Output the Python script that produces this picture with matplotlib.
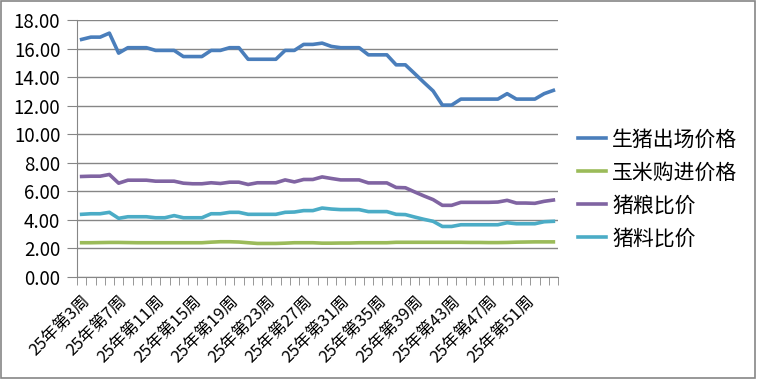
import matplotlib
matplotlib.use("Agg")
import matplotlib.pyplot as plt
import matplotlib.patches as patches

plt.rcParams['font.family'] = ['Noto Sans CJK SC', 'DejaVu Sans']

weeks = list(range(3, 55))
week_labels = [f"25年第{w}周" for w in weeks]

hog_price = [16.64, 16.80, 16.80, 17.08, 15.68, 16.06, 16.06, 16.06, 15.87, 15.87,
             15.87, 15.44, 15.44, 15.44, 15.87, 15.87, 16.06, 16.06, 15.25, 15.25,
             15.25, 15.25, 15.87, 15.87, 16.29, 16.29, 16.38, 16.15, 16.06, 16.06,
             16.06, 15.56, 15.56, 15.56, 14.86, 14.86, 14.25, 13.63, 13.03, 12.04,
             12.04, 12.46, 12.46, 12.46, 12.46, 12.46, 12.84, 12.46, 12.46, 12.46,
             12.84, 13.07]
corn_price = [2.40, 2.40, 2.41, 2.42, 2.42, 2.41, 2.40, 2.40, 2.40, 2.40,
              2.40, 2.40, 2.40, 2.40, 2.44, 2.47, 2.47, 2.45, 2.40, 2.35,
              2.35, 2.35, 2.37, 2.40, 2.40, 2.40, 2.37, 2.37, 2.38, 2.38,
              2.40, 2.40, 2.40, 2.40, 2.43, 2.43, 2.43, 2.43, 2.43, 2.43,
              2.43, 2.43, 2.42, 2.42, 2.41, 2.41, 2.42, 2.44, 2.45, 2.46,
              2.46, 2.46]
hog_grain_ratio = [7.04, 7.06, 7.06, 7.18, 6.57, 6.78, 6.78, 6.78, 6.71, 6.71,
                   6.71, 6.57, 6.53, 6.53, 6.60, 6.55, 6.64, 6.64, 6.48, 6.60,
                   6.60, 6.60, 6.80, 6.66, 6.83, 6.83, 7.01, 6.90, 6.80, 6.80,
                   6.80, 6.59, 6.59, 6.59, 6.27, 6.25, 5.96, 5.68, 5.42, 5.02,
                   5.02, 5.23, 5.23, 5.23, 5.23, 5.25, 5.37, 5.18, 5.18, 5.16,
                   5.30, 5.39]
hog_feed_ratio = [4.39, 4.43, 4.43, 4.53, 4.11, 4.22, 4.22, 4.22, 4.15, 4.15,
                  4.30, 4.15, 4.15, 4.15, 4.43, 4.43, 4.53, 4.53, 4.39, 4.39,
                  4.39, 4.39, 4.53, 4.55, 4.65, 4.65, 4.83, 4.76, 4.72, 4.72,
                  4.72, 4.58, 4.58, 4.58, 4.39, 4.37, 4.20, 4.04, 3.90, 3.54,
                  3.54, 3.66, 3.66, 3.66, 3.66, 3.66, 3.80, 3.73, 3.73, 3.73,
                  3.87, 3.90]

series_names = ['生猪出场价格', '玉米购进价格', '猪粮比价', '猪料比价']
series_colors = ['#4A7EBB', '#9BBB59', '#8064A2', '#4BACC6']
grey = '#868686'

fig = plt.figure(figsize=(7.57, 3.79), dpi=100)
ax = fig.add_axes([77/757, 1 - 277/379, 481/757, 257/379])

x = list(range(len(weeks)))
for vals, name, col in zip([hog_price, corn_price, hog_grain_ratio, hog_feed_ratio],
                           series_names, series_colors):
    ax.plot(x, vals, color=col, linewidth=2.6, label=name, solid_joinstyle='round')

ax.set_xlim(-0.5, len(weeks) - 0.5)
ax.set_ylim(0, 18)
ax.set_yticks(range(0, 19, 2))
ax.set_yticklabels([f"{v:.2f}" for v in range(0, 19, 2)], fontsize=13.5)
ax.yaxis.grid(True, color=grey, linewidth=1)
ax.set_axisbelow(True)

ax.set_xticks(x[::4])
ax.set_xticklabels(week_labels[::4], rotation=45, ha='right', va='top',
                   rotation_mode='anchor', fontsize=12)
ax.set_xticks([i - 0.5 for i in range(len(weeks) + 1)], minor=True)
ax.tick_params(axis='x', which='major', length=0, pad=11)
ax.tick_params(axis='x', which='minor', length=6, color=grey, direction='out')
ax.tick_params(axis='y', length=7, color=grey, pad=5)

for s in ['top', 'right']:
    ax.spines[s].set_visible(False)
for s in ['left', 'bottom']:
    ax.spines[s].set_color(grey)

fig.legend(loc='center left', bbox_to_anchor=(578/757, 1 - 189/379), frameon=False,
           fontsize=15, handlelength=1.35, handletextpad=0.3, labelspacing=0.52,
           borderpad=0, borderaxespad=0)

fig.patches.append(patches.Rectangle((0.001, 0.002), 0.997, 0.995, transform=fig.transFigure,
                                     fill=False, edgecolor=grey, linewidth=1.2))

fig.savefig("out.png", dpi=100)
